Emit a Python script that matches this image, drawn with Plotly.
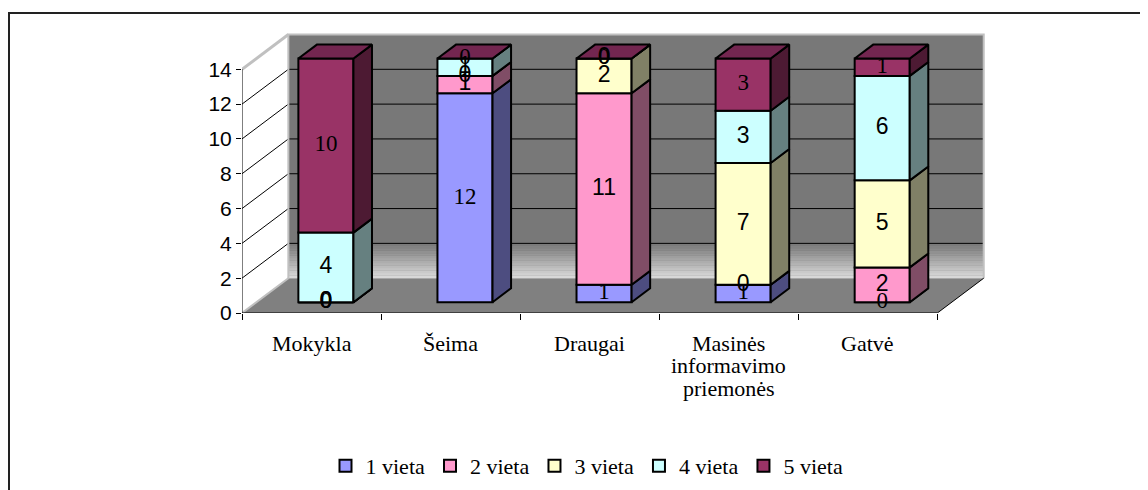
import plotly.graph_objects as go

# data
categories = ["Mokykla", "Šeima", "Draugai", "Masinės<br>informavimo<br>priemonės", "Gatvė"]
series_names = ["1 vieta", "2 vieta", "3 vieta", "4 vieta", "5 vieta"]
vieta1 = [0, 12, 1, 1, 0]
vieta2 = [0, 1, 11, 0, 2]
vieta3 = [0, 0, 2, 7, 5]
vieta4 = [4, 1, 0, 3, 6]
vieta5 = [10, 0, 0, 3, 1]
y_ticks = [0, 2, 4, 6, 8, 10, 12, 14]

series = [vieta1, vieta2, vieta3, vieta4, vieta5]
front_colors = ["#9999FF", "#FF99CC", "#FFFFCC", "#CCFFFF", "#993366"]
side_colors = ["#4D4D80", "#804D66", "#808066", "#668080", "#4D1A33"]
top_color = "#732650"
label_fonts = ["Liberation Serif", "Liberation Sans", "Liberation Sans", "Liberation Sans", "Liberation Serif"]

# the page body has an 8px margin, so the figure is a bit smaller than the window
OFF = 8
W, H = 1148 - OFF, 490 - OFF
ML, MR, MT, MB = 242 - OFF, 155, 31 - OFF, 177
XMIN, XMAX = -0.5, 4.9
YMIN, YMAX = 0, 16.2

# fake 3d: full floor depth in data units, bars sit between D0 and D1 of it
DX, DY = 1 / 3, 2.0
D0, D1 = 0.31, 0.71
HALF_W = 0.198
xf, yf = D0 * DX, D0 * DY
bdx, bdy = (D1 - D0) * DX, (D1 - D0) * DY
n = len(categories)
ymax = y_ticks[-1]


# window pixel -> paper coords
def px_x(p):
    return (p - OFF - ML) / (W - ML - MR)


def px_y(p):
    return (H - MB - (p - OFF)) / (H - MT - MB)


fig = go.Figure()

# front faces
cum = [0] * n
for s, vals in enumerate(series):
    fig.add_trace(go.Bar(
        x=[i + xf for i in range(n)], y=vals, base=[c + yf for c in cum],
        width=2 * HALF_W, name=series_names[s],
        marker=dict(color=front_colors[s], line=dict(color="black", width=2)),
        hoverinfo="skip",
    ))
    cum = [c + v for c, v in zip(cum, vals)]

# side faces
cum = [0] * n
for s, vals in enumerate(series):
    xs, ys = [], []
    for i in range(n):
        xr = i + xf + HALF_W
        b = cum[i] + yf
        t = cum[i] + vals[i] + yf
        xs += [xr, xr + bdx, xr + bdx, xr, xr, None]
        ys += [b, b + bdy, t + bdy, t, b, None]
    fig.add_trace(go.Scatter(x=xs, y=ys, mode="lines", fill="toself",
                             fillcolor=side_colors[s], line=dict(color="black", width=2),
                             showlegend=False, hoverinfo="skip"))
    cum = [c + v for c, v in zip(cum, vals)]

# top faces
xs, ys = [], []
for i in range(n):
    xl, xr = i + xf - HALF_W, i + xf + HALF_W
    T = cum[i] + yf
    xs += [xl, xl + bdx, xr + bdx, xr, xl, None]
    ys += [T, T + bdy, T + bdy, T, T, None]
fig.add_trace(go.Scatter(x=xs, y=ys, mode="lines", fill="toself", fillcolor=top_color,
                         line=dict(color="black", width=2), showlegend=False, hoverinfo="skip"))

# value labels
cum = [0] * n
for s, vals in enumerate(series):
    fig.add_trace(go.Scatter(
        x=[i + xf for i in range(n)],
        y=[c + v / 2 + yf for c, v in zip(cum, vals)],
        text=[str(v) for v in vals], mode="text",
        textfont=dict(family=label_fonts[s], size=23, color="black"),
        showlegend=False, hoverinfo="skip", cliponaxis=False,
    ))
    cum = [c + v for c, v in zip(cum, vals)]

# walls and floor
x0, x1 = XMIN, n - 0.5
shapes = []
shapes.append(dict(type="path", layer="below", fillcolor="#808080", line=dict(width=0),
                   path=f"M{x0},0 L{x1},0 L{x1 + DX},{DY} L{x0 + DX},{DY} Z"))
shapes.append(dict(type="rect", layer="below", x0=x0 + DX, x1=x1 + DX, y0=DY, y1=ymax + DY,
                   fillcolor="#787878", line=dict(width=0)))
steps = 14
for j in range(steps):
    t = (j + 0.5) / steps
    g = int(0xDC + (0x78 - 0xDC) * t)
    shapes.append(dict(type="rect", layer="below", x0=x0 + DX, x1=x1 + DX,
                       y0=DY + 2 * j / steps, y1=DY + 2 * (j + 1) / steps + 0.01,
                       fillcolor=f"rgb({g},{g},{g})", line=dict(width=0)))
shapes.append(dict(type="path", layer="below", fillcolor="white", line=dict(width=0),
                   path=f"M{x0},0 L{x0 + DX},{DY} L{x0 + DX},{ymax + DY} L{x0},{ymax} Z"))
for k in y_ticks[1:-1]:
    shapes.append(dict(type="line", layer="below", x0=x0 + DX, x1=x1 + DX, y0=k + DY, y1=k + DY,
                       line=dict(color="black", width=1)))
    shapes.append(dict(type="line", layer="below", x0=x0, x1=x0 + DX, y0=k, y1=k + DY,
                       line=dict(color="black", width=1)))
shapes.append(dict(type="path", layer="below", line=dict(color="#C0C0C0", width=2),
                   path=f"M{x0 + DX},{DY} L{x0 + DX},{ymax + DY} L{x1 + DX},{ymax + DY} L{x1 + DX},{DY}"))
shapes.append(dict(type="line", layer="below", x0=x0, x1=x0 + DX, y0=ymax, y1=ymax + DY,
                   line=dict(color="#C0C0C0", width=3)))
shapes.append(dict(type="line", layer="below", x0=x0, x1=x0 + DX, y0=0, y1=DY,
                   line=dict(color="#C0C0C0", width=2)))
shapes.append(dict(type="line", layer="below", x0=x1, x1=x1 + DX, y0=0, y1=DY,
                   line=dict(color="black", width=1)))
shapes.append(dict(type="line", x0=x0, x1=x1, y0=0, y1=0, line=dict(color="black", width=1)))
shapes.append(dict(type="line", x0=x0, x1=x0, y0=0, y1=ymax, line=dict(color="black", width=1)))

# outer frame (top and left edges only)
shapes.append(dict(type="line", xref="paper", yref="paper", x0=px_x(8), x1=px_x(1160),
                   y0=px_y(13), y1=px_y(13), line=dict(color="#222222", width=2)))
shapes.append(dict(type="line", xref="paper", yref="paper", x0=px_x(9), x1=px_x(9),
                   y0=px_y(13), y1=px_y(500), line=dict(color="#222222", width=2)))

# category labels, one line each so the line spacing matches the original
annotations = []
for i, cat in enumerate(categories):
    for j, line in enumerate(cat.split("<br>")):
        annotations.append(dict(x=i, xref="x", y=px_y(343 + 22.5 * j), yref="paper",
                                text=line, showarrow=False, xanchor="center", yanchor="middle",
                                font=dict(family="Liberation Serif", size=22, color="black")))

fig.update_layout(
    width=W, height=H,
    margin=dict(l=ML, r=MR, t=MT, b=MB, autoexpand=False),
    paper_bgcolor="white", plot_bgcolor="white",
    barmode="overlay",
    shapes=shapes,
    annotations=annotations,
    font=dict(family="Liberation Serif", color="black"),
    xaxis=dict(range=[XMIN, XMAX], showgrid=False, zeroline=False, showline=False,
               tickvals=list(range(n)), showticklabels=False, ticks="",
               minor=dict(tickvals=[i - 0.5 for i in range(n + 1)], ticks="outside",
                          ticklen=6, tickcolor="black", tickwidth=1)),
    yaxis=dict(range=[YMIN, YMAX], showgrid=False, zeroline=False, showline=False,
               tickvals=y_ticks, ticks="outside", ticklen=5, tickcolor="black",
               tickfont=dict(family="Liberation Sans", size=21, color="black")),
    legend=dict(orientation="h", x=px_x(587), xanchor="center", y=px_y(466), yanchor="middle",
                font=dict(family="Liberation Serif", size=22, color="black"),
                traceorder="normal", itemwidth=30),
    showlegend=True,
)

fig.write_html("out.html")
